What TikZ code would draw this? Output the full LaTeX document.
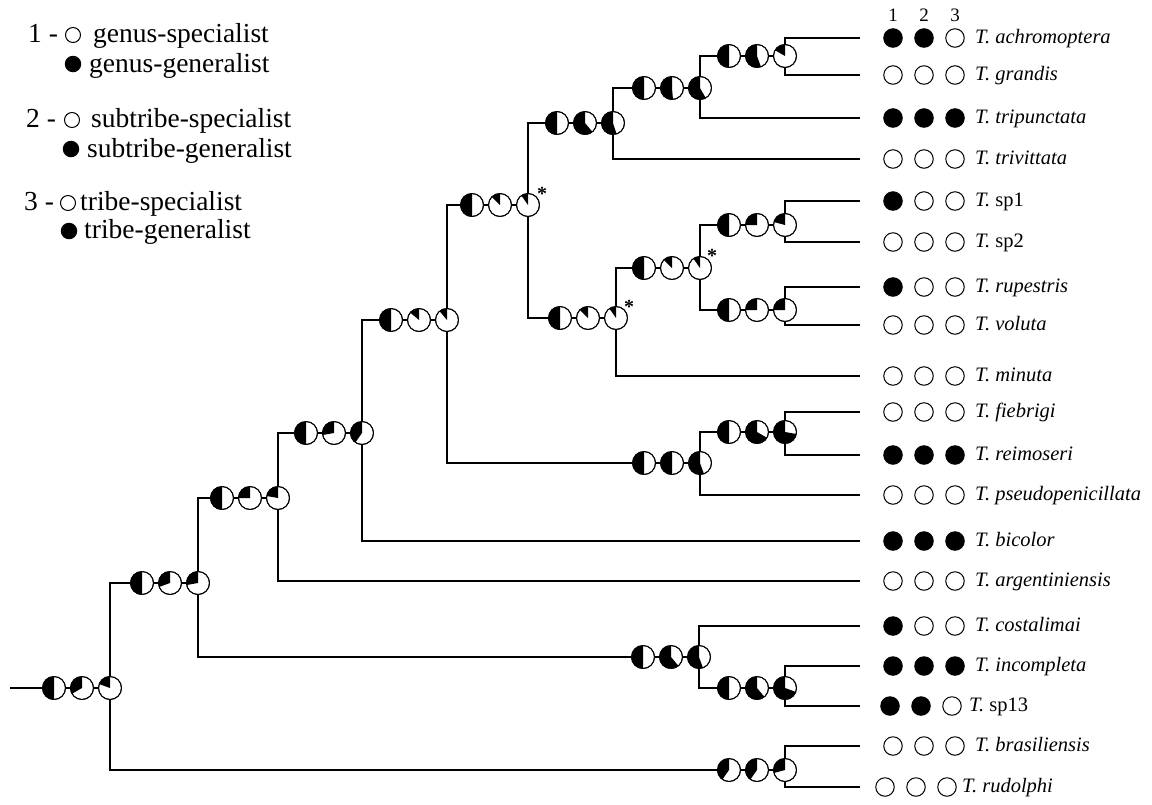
\documentclass[tikz,border=0pt]{standalone}
\usepackage{fontspec}
\setmainfont{Liberation Serif}
\tikzset{
  br/.style={line width=1.8pt},
  pie/.style={circle, draw, line width=0.9pt, fill=white, minimum size=23pt, inner sep=0pt},
  opn/.style={circle, draw, line width=1pt, minimum size=18.5pt, inner sep=0pt},
  fll/.style={circle, draw, fill=black, line width=1pt, minimum size=18.5pt, inner sep=0pt},
  lab/.style={anchor=base west, inner sep=0pt, font=\fontsize{20.5}{22}\selectfont},
  leg/.style={anchor=base west, inner sep=0pt, font=\fontsize{27.5}{30}\selectfont},
  lego/.style={circle, draw, line width=1pt, minimum size=15pt, inner sep=0pt},
  legf/.style={circle, fill=black, minimum size=16.5pt, inner sep=0pt},
  num/.style={anchor=base, inner sep=0pt, font=\fontsize{19}{21}\selectfont},
  ast/.style={inner sep=0pt, font=\fontsize{20}{22}\selectfont\bfseries},
}
\newcommand{\pienode}[4]{%
  \node[pie] (#1) at (#2,#3) {};
  \fill (#1.center) -- ++(90:11.5pt) arc[start angle=90, delta angle=#4, radius=11.5pt] -- cycle;
  \draw[line width=0.9pt] (#1.center) circle[radius=11.5pt];
}
\newcommand{\pgroup}[6]{%
  \pienode{#11}{{#2-56}}{#3}{#4}
  \pienode{#12}{{#2-28}}{#3}{#5}
  \pienode{#13}{#2}{#3}{#6}
  \draw[br] (#11) -- (#12) -- (#13);
}
% \tip{name}{y}{s1}{s2}{s3}{label}{circle shift}{label x}
\newcommand{\tip}[8]{%
  \coordinate (#1) at (860,#2);
  \node[#3] (#1a) at ({893+#7},#2) {};
  \node[#4] (#1b) at ({924+#7},#2) {};
  \node[#5] (#1c) at ({955+#7},#2) {};
  \node[lab] (#1l) at (#8,{#2+5}) {#6};
}
\begin{document}
\begin{tikzpicture}[x=1pt,y=-1pt]
\useasboundingbox (0,0) rectangle (1152,804);
% legend
\node[leg] (l1n) at (28,42) {1 -};
\node[lego] (l1o) at (73,35) {};
\node[leg] (l1t) at (93,42) {genus-specialist};
\node[legf] (l1f) at (73,64) {};
\node[leg] (l1g) at (89,72) {genus-generalist};
\node[leg] (l2n) at (26,127) {2 -};
\node[lego] (l2o) at (72,120) {};
\node[leg] (l2t) at (91,127) {subtribe-specialist};
\node[legf] (l2f) at (71,149) {};
\node[leg] (l2g) at (87,157) {subtribe-generalist};
\node[leg] (l3n) at (24,210) {3 -};
\node[lego] (l3o) at (68,203) {};
\node[leg] (l3t) at (80,210) {tribe-specialist};
\node[legf] (l3f) at (69,231) {};
\node[leg] (l3g) at (84,238) {tribe-generalist};
% column numbers
\node[num] (c1) at (893,21) {1};
\node[num] (c2) at (924,21) {2};
\node[num] (c3) at (955,21) {3};
% tips
\tip{tAch}{38}{fll}{fll}{opn}{\textit{T. achromoptera}}{0}{975}
\tip{tGra}{75}{opn}{opn}{opn}{\textit{T. grandis}}{0}{975}
\tip{tTrip}{118}{fll}{fll}{fll}{\textit{T. tripunctata}}{0}{975}
\tip{tTriv}{159}{opn}{opn}{opn}{\textit{T. trivittata}}{0}{975}
\tip{tSpa}{201}{fll}{opn}{opn}{\textit{T.} sp1}{0}{975}
\tip{tSpb}{242}{opn}{opn}{opn}{\textit{T.} sp2}{0}{975}
\tip{tRup}{287}{fll}{opn}{opn}{\textit{T. rupestris}}{0}{975}
\tip{tVol}{325}{opn}{opn}{opn}{\textit{T. voluta}}{0}{975}
\tip{tMin}{376}{opn}{opn}{opn}{\textit{T. minuta}}{0}{975}
\tip{tFie}{412}{opn}{opn}{opn}{\textit{T. fiebrigi}}{0}{975}
\tip{tRei}{455}{fll}{fll}{fll}{\textit{T. reimoseri}}{0}{975}
\tip{tPse}{495}{opn}{opn}{opn}{\textit{T. pseudopenicillata}}{0}{975}
\tip{tBic}{541}{fll}{fll}{fll}{\textit{T. bicolor}}{0}{975}
\tip{tArg}{581}{opn}{opn}{opn}{\textit{T. argentiniensis}}{0}{975}
\tip{tCos}{626}{fll}{opn}{opn}{\textit{T. costalimai}}{0}{975}
\tip{tInc}{666}{fll}{fll}{fll}{\textit{T. incompleta}}{0}{975}
\tip{tSpc}{706}{fll}{fll}{opn}{\textit{T.} sp13}{-3}{969}
\tip{tBra}{746}{opn}{opn}{opn}{\textit{T. brasiliensis}}{0}{975}
\tip{tRud}{787}{opn}{opn}{opn}{\textit{T. rudolphi}}{-8}{962}
% internal nodes (pie groups)
\coordinate (root) at (10,688);
\pgroup{R}{110}{688}{180}{120}{70}
\pgroup{A}{198}{583}{180}{110}{100}
\pgroup{B}{278}{498}{180}{90}{80}
\pgroup{E}{362}{433}{180}{100}{145}
\pgroup{F}{447}{320}{180}{50}{40}
\pgroup{G}{528}{205}{180}{45}{35}
\pgroup{J}{613}{123}{180}{220}{198}
\pgroup{L}{700}{88}{180}{185}{210}
\pgroup{M}{785}{56}{180}{200}{60}
\pgroup{K}{616}{318}{180}{45}{35}
\pgroup{N}{700}{268}{180}{45}{35}
\pgroup{O}{785}{225}{180}{90}{75}
\pgroup{P}{785}{310}{180}{90}{90}
\pgroup{H}{700}{463}{180}{180}{200}
\pgroup{I}{785}{432}{180}{240}{260}
\pgroup{C}{699}{657}{180}{220}{200}
\pgroup{D}{785}{688}{180}{220}{250}
\pgroup{Z}{785}{770}{145}{145}{105}
% asterisks
\node[ast] (sG) at (542,194) {*};
\node[ast] (sK) at (629,307) {*};
\node[ast] (sN) at (712,256) {*};
% branches
\draw[br] (root) -- (R1);
\draw[br] (R3) |- (A1);  \draw[br] (R3) |- (Z1);
\draw[br] (A3) |- (B1);  \draw[br] (A3) |- (C1);
\draw[br] (B3) |- (E1);  \draw[br] (B3) |- (tArg);
\draw[br] (E3) |- (F1);  \draw[br] (E3) |- (tBic);
\draw[br] (F3) |- (G1);  \draw[br] (F3) |- (H1);
\draw[br] (G3) |- (J1);  \draw[br] (G3) |- (K1);
\draw[br] (J3) |- (L1);  \draw[br] (J3) |- (tTriv);
\draw[br] (L3) |- (M1);  \draw[br] (L3) |- (tTrip);
\draw[br] (M3) |- (tAch); \draw[br] (M3) |- (tGra);
\draw[br] (K3) |- (N1);  \draw[br] (K3) |- (tMin);
\draw[br] (N3) |- (O1);  \draw[br] (N3) |- (P1);
\draw[br] (O3) |- (tSpa); \draw[br] (O3) |- (tSpb);
\draw[br] (P3) |- (tRup); \draw[br] (P3) |- (tVol);
\draw[br] (H3) |- (I1);  \draw[br] (H3) |- (tPse);
\draw[br] (I3) |- (tFie); \draw[br] (I3) |- (tRei);
\draw[br] (C3) |- (tCos); \draw[br] (C3) |- (D1);
\draw[br] (D3) |- (tInc); \draw[br] (D3) |- (tSpc);
\draw[br] (Z3) |- (tBra); \draw[br] (Z3) |- (tRud);
\end{tikzpicture}
\end{document}
